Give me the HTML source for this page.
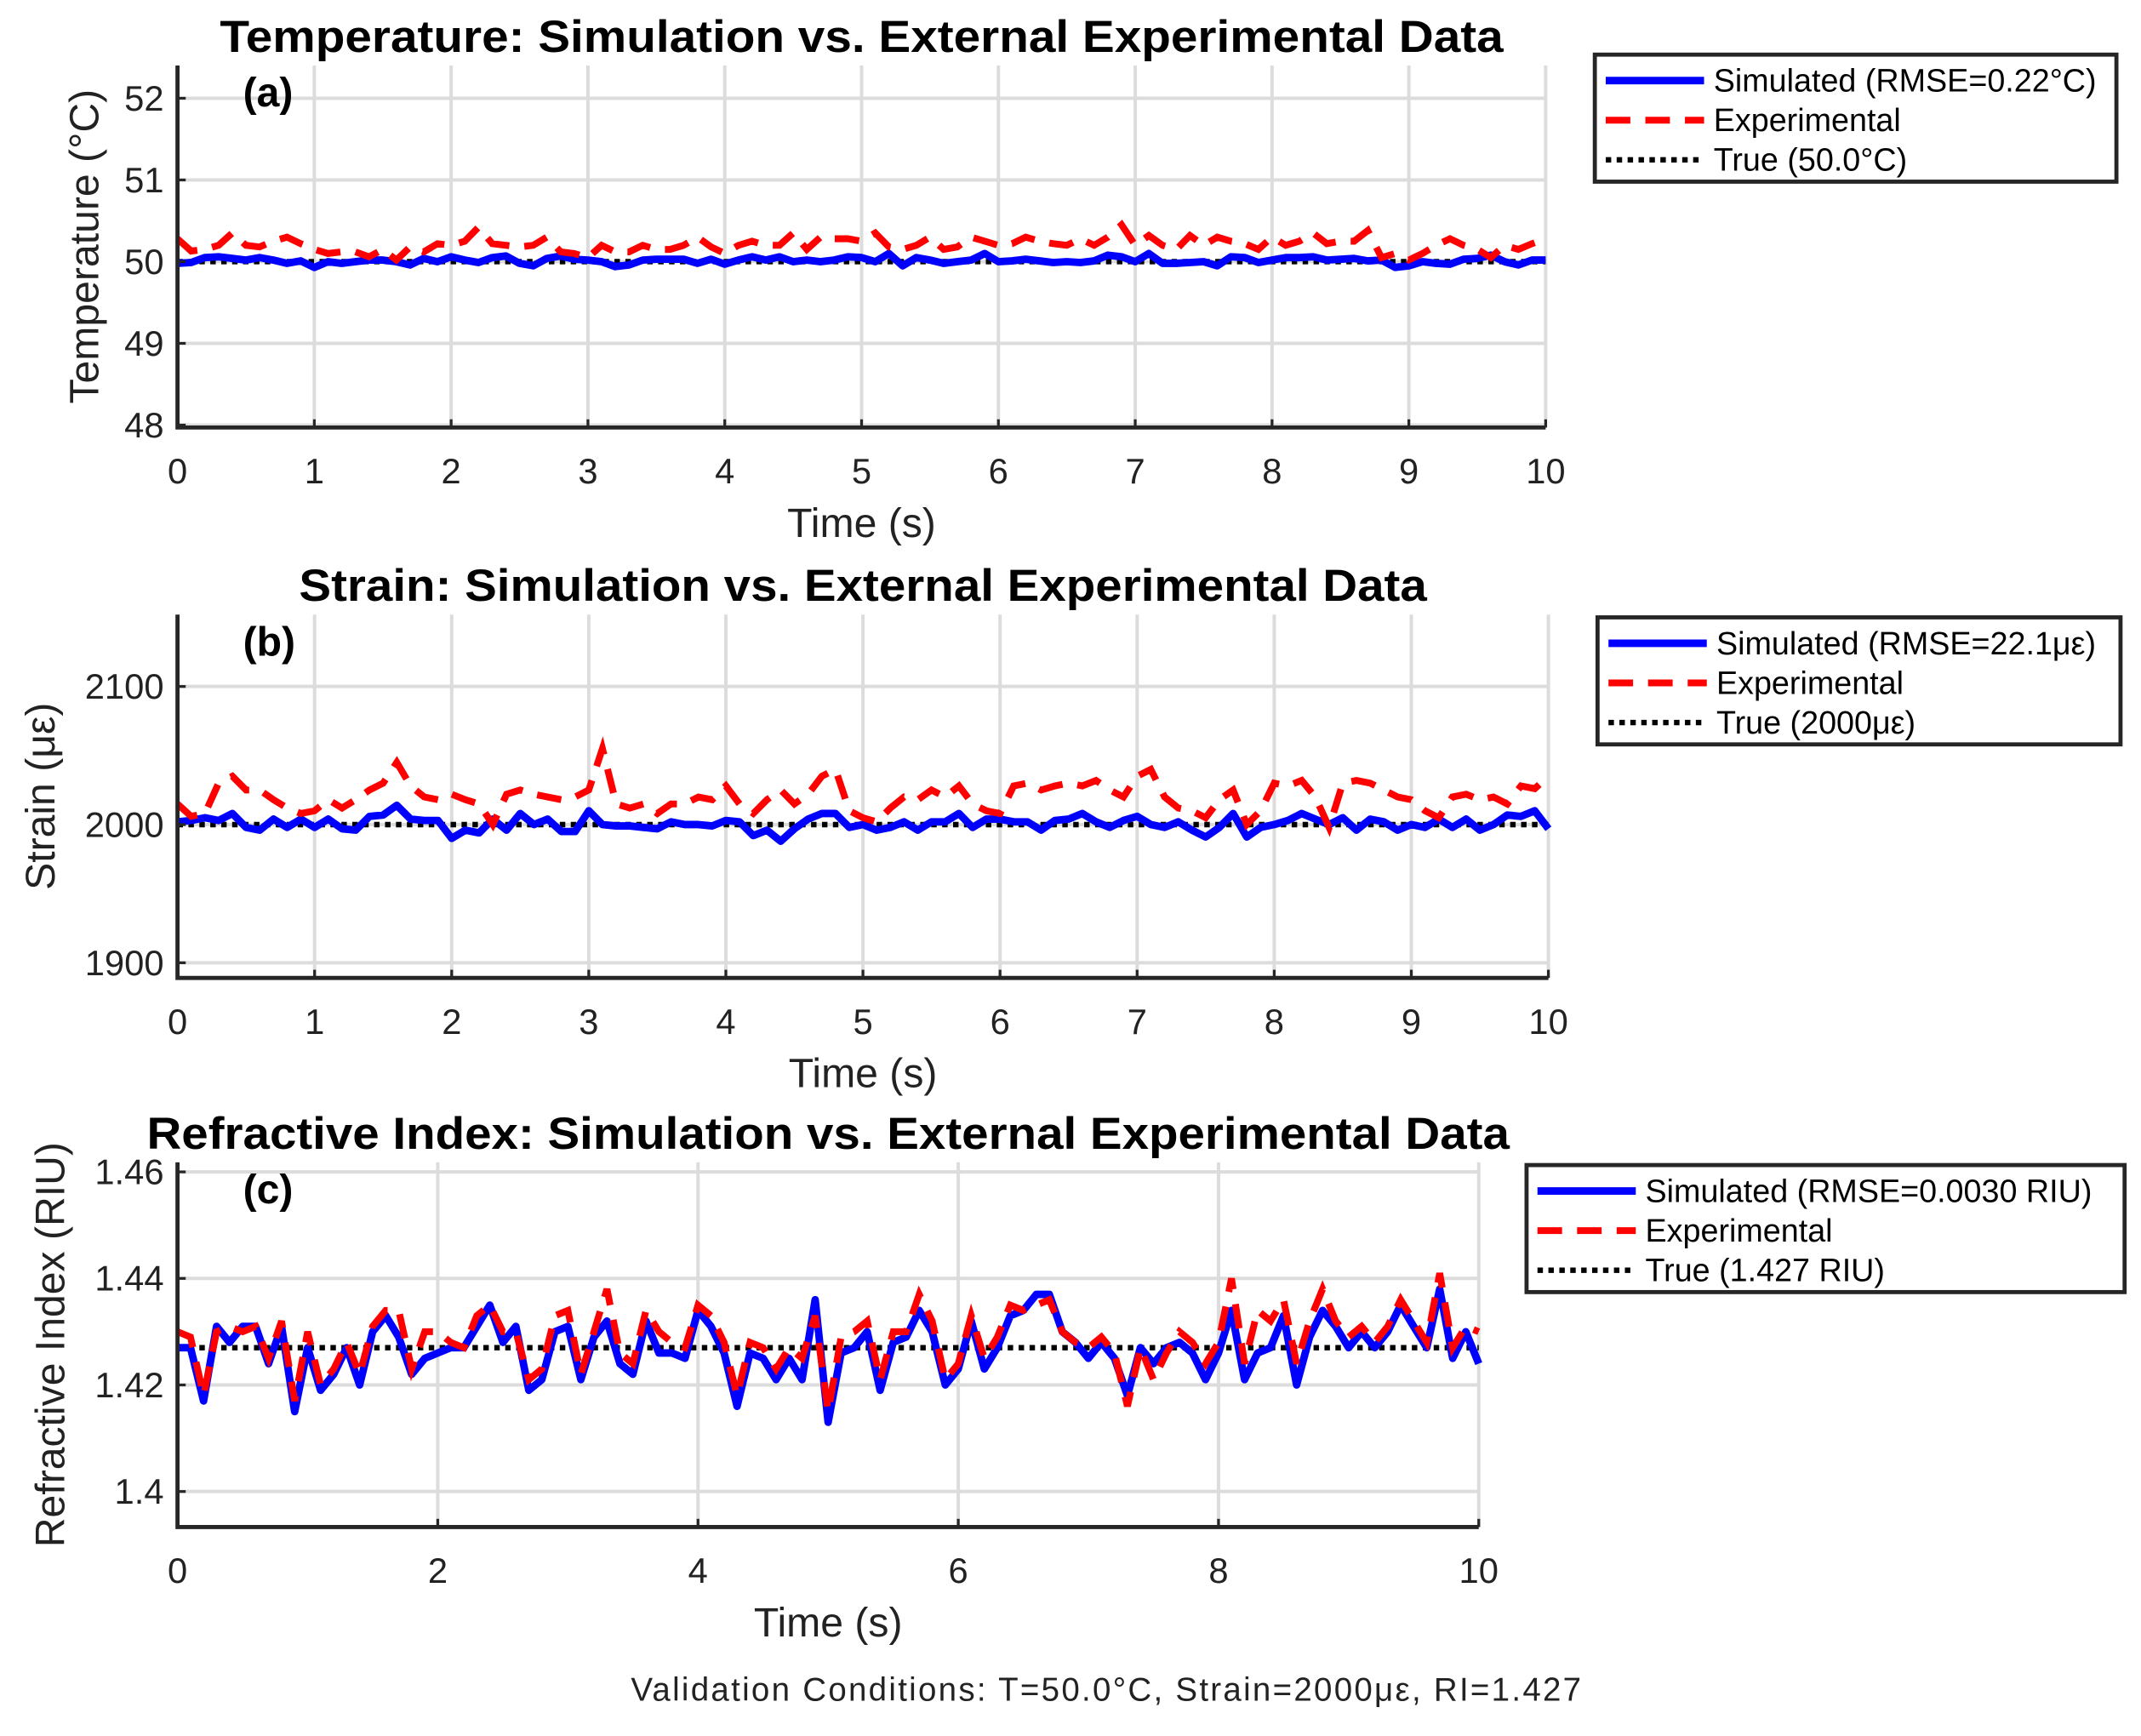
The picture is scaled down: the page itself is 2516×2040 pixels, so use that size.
<!DOCTYPE html>
<html><head><meta charset="utf-8"><style>
html,body{margin:0;padding:0;background:#fff;}
svg{display:block;font-family:"Liberation Sans",sans-serif;}
</style></head><body>
<svg id="fig" xmlns="http://www.w3.org/2000/svg" width="2516" height="2040" viewBox="0 0 1568 1271" preserveAspectRatio="none">
<rect width="1568" height="1271" fill="#fff"/>
<text x="810" y="1245" font-size="24" text-anchor="middle" fill="#222" textLength="696">Validation Conditions: T=50.0°C, Strain=2000με, RI=1.427</text>
</svg>
<script>
const tempSim=[49.98,49.99,50.05,50.06,50.04,50.02,50.05,50.02,49.98,50.01,49.93,50.0,49.98,50.0,50.02,50.02,50.0,49.96,50.04,50.0,50.06,50.02,49.99,50.05,50.07,49.98,49.95,50.04,50.07,50.03,50.02,50.0,49.94,49.96,50.02,50.03,50.03,50.03,49.98,50.03,49.97,50.02,50.06,50.02,50.06,50.0,50.02,50.0,50.02,50.06,50.05,50.0,50.1,49.95,50.05,50.02,49.98,50.0,50.02,50.1,50.0,50.01,50.03,50.01,49.99,50.0,49.99,50.01,50.08,50.06,50.0,50.1,49.98,49.98,49.99,50.0,49.95,50.06,50.05,49.99,50.02,50.05,50.05,50.06,50.02,50.03,50.04,50.01,50.02,49.93,49.95,50.0,49.98,49.97,50.03,50.04,50.08,50.0,49.96,50.02,50.02];
const tempExp=[50.28,50.13,50.15,50.2,50.35,50.2,50.18,50.25,50.3,50.22,50.15,50.1,50.12,50.12,50.06,50.15,50.02,50.18,50.12,50.22,50.2,50.25,50.42,50.22,50.2,50.18,50.2,50.3,50.12,50.1,50.05,50.2,50.12,50.12,50.2,50.15,50.15,50.2,50.3,50.18,50.1,50.2,50.25,50.2,50.2,50.35,50.15,50.3,50.28,50.28,50.25,50.35,50.18,50.15,50.2,50.3,50.15,50.18,50.3,50.25,50.2,50.22,50.3,50.25,50.22,50.2,50.28,50.2,50.3,50.45,50.2,50.32,50.2,50.15,50.32,50.2,50.3,50.25,50.22,50.15,50.3,50.2,50.25,50.35,50.22,50.25,50.25,50.38,50.05,50.1,50.02,50.1,50.2,50.28,50.2,50.15,50.05,50.2,50.15,50.22,50.28];
const strainSim=[2002,2003,2005,2003,2008,1998,1996,2004,1998,2004,1998,2004,1997,1996,2006,2007,2014,2004,2003,2003,1990,1996,1994,2004,1996,2008,2000,2004,1995,1995,2010,2000,1999,1999,1998,1997,2002,2000,2000,1999,2003,2002,1992,1996,1988,1997,2004,2008,2008,1998,2000,1996,1998,2002,1996,2002,2002,2008,1998,2004,2004,2002,2002,1996,2003,2004,2008,2002,1998,2003,2006,2000,1998,2002,1996,1991,1998,2008,1991,1998,2000,2003,2008,2004,2000,2005,1996,2004,2002,1996,2000,1998,2004,1998,2004,1996,2000,2007,2006,2010,1997];
const strainExp=[2015,2006,2008,2030,2035,2025,2025,2018,2012,2008,2010,2018,2012,2018,2025,2030,2045,2028,2020,2018,2022,2018,2015,2000,2022,2025,2022,2020,2018,2020,2025,2055,2015,2012,2015,2008,2015,2015,2020,2018,2028,2015,2008,2018,2025,2015,2022,2035,2040,2010,2005,2002,2012,2020,2018,2025,2020,2028,2015,2010,2008,2028,2030,2025,2028,2030,2028,2032,2025,2020,2035,2040,2020,2012,2010,2005,2018,2025,2000,2010,2030,2028,2032,2020,1998,2030,2032,2030,2025,2020,2018,2010,2005,2020,2022,2018,2020,2015,2028,2026,2035];
const riSim=[1.427,1.427,1.417,1.431,1.428,1.431,1.431,1.424,1.431,1.415,1.427,1.419,1.422,1.427,1.420,1.430,1.433,1.429,1.422,1.425,1.426,1.427,1.427,1.431,1.435,1.428,1.431,1.419,1.421,1.430,1.431,1.421,1.429,1.432,1.424,1.422,1.432,1.426,1.426,1.425,1.434,1.431,1.426,1.416,1.426,1.425,1.421,1.425,1.421,1.436,1.413,1.426,1.427,1.430,1.419,1.428,1.429,1.434,1.430,1.420,1.423,1.432,1.423,1.427,1.433,1.434,1.437,1.437,1.430,1.428,1.425,1.428,1.425,1.418,1.427,1.424,1.427,1.428,1.426,1.421,1.426,1.434,1.421,1.426,1.427,1.433,1.420,1.429,1.434,1.431,1.427,1.430,1.427,1.430,1.435,1.431,1.427,1.438,1.425,1.430,1.424];
const riExp=[1.430,1.429,1.418,1.430,1.431,1.430,1.431,1.425,1.432,1.417,1.430,1.420,1.423,1.428,1.422,1.431,1.434,1.434,1.423,1.430,1.430,1.428,1.427,1.433,1.435,1.430,1.430,1.421,1.423,1.433,1.434,1.422,1.430,1.438,1.426,1.424,1.434,1.430,1.428,1.427,1.435,1.433,1.428,1.418,1.428,1.427,1.423,1.427,1.425,1.433,1.415,1.429,1.430,1.432,1.421,1.430,1.430,1.437,1.432,1.421,1.424,1.433,1.425,1.429,1.435,1.434,1.435,1.436,1.430,1.428,1.427,1.429,1.426,1.416,1.427,1.421,1.426,1.430,1.428,1.424,1.428,1.440,1.424,1.434,1.432,1.436,1.424,1.432,1.438,1.432,1.429,1.431,1.428,1.431,1.436,1.432,1.428,1.441,1.427,1.431,1.430];
const tempTicks=[48,49,50,51,52], strainTicks=[1900,2000,2100], riTicks=[1.40,1.42,1.44,1.46];
const xTicksAB=[0,1,2,3,4,5,6,7,8,9,10], xTicksC=[0,2,4,6,8,10];

const NS="http://www.w3.org/2000/svg";
const svg=document.getElementById('fig');
function mk(tag,attrs,parent){const e=document.createElementNS(NS,tag);for(const k in attrs)e.setAttribute(k,attrs[k]);(parent||svg).appendChild(e);return e;}

function panel(cfg){
  const g=mk('g',{});
  
  
  const {x0,x1,y0,y1,ymin,ymax}=cfg;
  const X=t=>x0+(t/10)*(x1-x0);
  const Y=v=>y1-(v-ymin)/(ymax-ymin)*(y1-y0);
  cfg.xt.forEach(t=>{const l=mk('line',{x1:X(t),x2:X(t),y1:y0,y2:y1,stroke:'#dcdcdc','stroke-width':2.5},g);
    
    const tx=mk('text',{x:X(t),y:y1+41,'font-size':26,'text-anchor':'middle',fill:'#222'},g);tx.textContent=t;
    });
  cfg.yt.forEach(v=>{const l=mk('line',{x1:x0,x2:x1,y1:Y(v),y2:Y(v),stroke:'#dcdcdc','stroke-width':2.5},g);
    
    const tx=mk('text',{x:x0-10,y:Y(v)+9,'font-size':26,'text-anchor':'end',fill:'#222'},g);tx.textContent=cfg.fmt(v);
    });
  const pts=arr=>arr.map((v,i)=>X(i*10/(arr.length-1)).toFixed(1)+','+Y(v).toFixed(1)).join(' ');
  const tl=mk('line',{x1:x0,x2:x1,y1:Y(cfg.truth),y2:Y(cfg.truth),stroke:'#000','stroke-width':4,'stroke-dasharray':'4,4'},g);
  
  const s=mk('polyline',{points:pts(cfg.sim),fill:'none',stroke:'#0000ff','stroke-width':5.5,'stroke-linejoin':'round'},g);
  
  const e=mk('polyline',{points:pts(cfg.exp),fill:'none',stroke:'#ff0000','stroke-width':5,'stroke-dasharray':'18,11'},g);
  
  const ax=mk('path',{d:`M${x0},${y0}V${y1}H${x1}`,fill:'none',stroke:'#262626','stroke-width':3},g);
  
  cfg.xt.forEach(t=>mk('line',{x1:X(t),x2:X(t),y1:y1,y2:y1-6,stroke:'#262626','stroke-width':2},g));
  cfg.yt.forEach(v=>mk('line',{x1:x0,x2:x0+6,y1:Y(v),y2:Y(v),stroke:'#262626','stroke-width':2},g));
  const ti=mk('text',{x:(x0+x1)/2,y:y0-10,'font-size':33,'font-weight':'bold','text-anchor':'middle',fill:'#000',textLength:cfg.tw,lengthAdjust:'spacingAndGlyphs'},g);ti.textContent=cfg.title;
  
  const lb=mk('text',{x:x0+48,y:y0+30,'font-size':30,'font-weight':'bold',fill:'#000'},g);lb.textContent=cfg.label;
  
  const xl=mk('text',{x:(x0+x1)/2,y:y1+80,'font-size':30,'text-anchor':'middle',fill:'#222'},g);xl.textContent='Time (s)';
  
  const yl=mk('text',{x:0,y:0,'font-size':30,'text-anchor':'middle',fill:'#222',transform:`translate(${cfg.ylx},${(y0+y1)/2}) rotate(-90)`},g);yl.textContent=cfg.ylabel;
  
  const L=cfg.leg;
  const lg=mk('g',{},g);
  
  mk('rect',{x:L.x,y:L.y,width:L.w,height:93,fill:'#fff',stroke:'#262626','stroke-width':3},lg);
  const rows=[[cfg.legSim,'#0000ff','none',5.5],['Experimental','#ff0000','18,11',5],[cfg.legTrue,'#000','4,4',4]];
  rows.forEach((r,i)=>{const yy=L.y+19+i*29;
    const ln=mk('line',{x1:L.x+8,x2:L.x+80,y1:yy,y2:yy,stroke:r[1],'stroke-width':r[3],'stroke-dasharray':r[2]},lg);
    
    const tx=mk('text',{x:L.x+87,y:yy+8,'font-size':23.5,fill:'#000'},lg);tx.textContent=r[0];
    });
}
panel({name:'temperature-panel',x0:130,x1:1132,y0:48,y1:313,ymin:47.97,ymax:52.4,xt:xTicksAB,yt:tempTicks,fmt:v=>v,truth:50,sim:tempSim,exp:tempExp,tw:940,
  title:'Temperature: Simulation vs. External Experimental Data',label:'(a)',ylabel:'Temperature (°C)',ylx:72,
  leg:{x:1168,y:40,w:382},legSim:'Simulated (RMSE=0.22°C)',legTrue:'True (50.0°C)'});
panel({name:'strain-panel',x0:130,x1:1134,y0:450,y1:716,ymin:1889,ymax:2152,xt:xTicksAB,yt:strainTicks,fmt:v=>v,truth:2000,sim:strainSim,exp:strainExp,tw:826,
  title:'Strain: Simulation vs. External Experimental Data',label:'(b)',ylabel:'Strain (με)',ylx:40,
  leg:{x:1170,y:452,w:383},legSim:'Simulated (RMSE=22.1με)',legTrue:'True (2000με)'});
panel({name:'refractive-index-panel',x0:130,x1:1083,y0:851,y1:1118,ymin:1.39333,ymax:1.46179,xt:xTicksC,yt:riTicks,fmt:v=>(+v.toFixed(2)).toString(),truth:1.427,sim:riSim,exp:riExp,tw:998,
  title:'Refractive Index: Simulation vs. External Experimental Data',label:'(c)',ylabel:'Refractive Index (RIU)',ylx:47,
  leg:{x:1118,y:853,w:438},legSim:'Simulated (RMSE=0.0030 RIU)',legTrue:'True (1.427 RIU)'});
</script>
</body></html>
